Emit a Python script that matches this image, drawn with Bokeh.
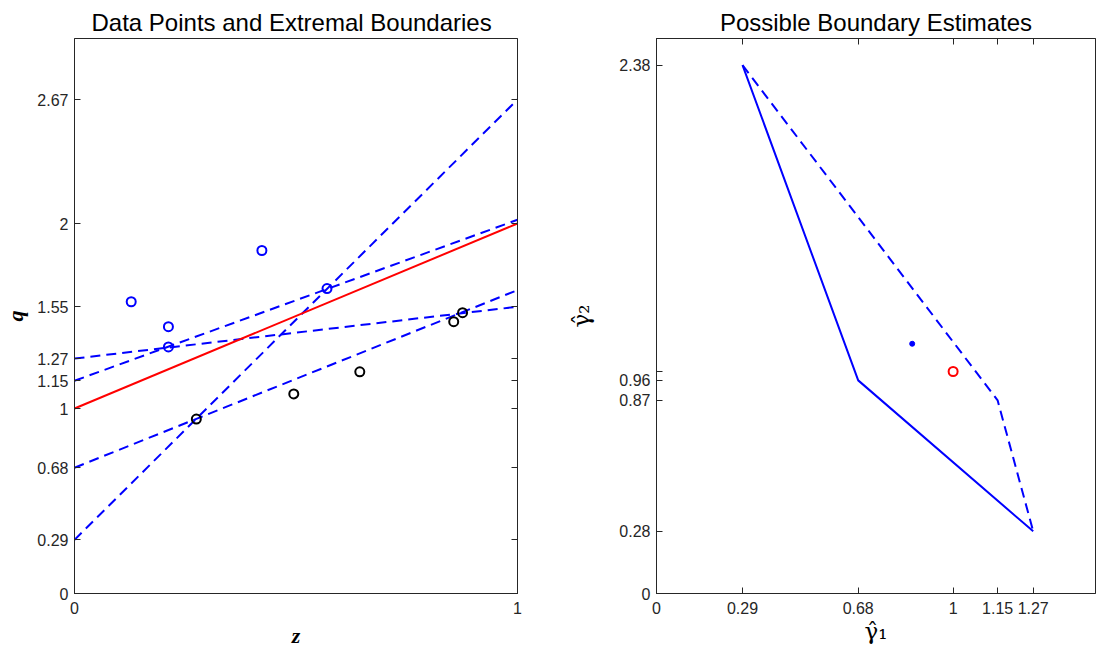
from bokeh.plotting import figure
from bokeh.layouts import row
from bokeh.models import LinearAxis, FixedTicker, CustomJSTickFormatter
from bokeh.embed import file_html
from bokeh.resources import INLINE

# ---------------- data ----------------
# left panel: observed points
blue_z = [0.128, 0.212, 0.212, 0.423, 0.570]
blue_q = [1.577, 1.442, 1.333, 1.854, 1.648]
black_z = [0.275, 0.495, 0.644, 0.856, 0.876]
black_q = [0.943, 1.079, 1.198, 1.469, 1.518]

# true boundary q = g1 + g2 * z
true_g1 = [1.0]
true_g2 = [1.0]

# extremal boundary parameters (vertices of the estimate region)
vert_g1 = [0.29, 0.68, 1.27, 1.15]
vert_g2 = [2.38, 0.96, 0.28, 0.87]
solid_idx = [0, 1, 2]
dashed_idx = [0, 3, 2]

# point estimate
est_g1 = [0.862]
est_g2 = [1.125]

z_ends = [0, 1]

left_xticks = [0, 1]
left_yticks = [0, 0.29, 0.68, 1, 1.15, 1.27, 1.55, 2, 2.67]
right_xticks = [0, 0.29, 0.68, 1, 1.15, 1.27]
right_yticks = [0, 0.28, 0.87, 0.96, 1, 2.38]

BLUE = "#0000FF"
RED = "#FF0000"
AX = "#262626"
TICK_FONT = "Liberation Sans"
TICK_SIZE = "16px"


def style(p):
    p.xgrid.visible = False
    p.ygrid.visible = False
    p.outline_line_color = AX
    p.outline_line_width = 1
    p.background_fill_color = "white"
    p.border_fill_color = "white"
    p.title.align = "center"
    p.title.text_font = "Liberation Sans"
    p.title.text_font_size = "24px"
    p.title.text_font_style = "normal"
    p.title.text_color = "#000000"
    p.title.standoff = 5
    for ax in (p.xaxis[0], p.yaxis[0]):
        ax.major_tick_in = 6
        ax.major_tick_out = 0
        ax.minor_tick_line_color = None
        ax.axis_line_color = AX
        ax.major_tick_line_color = AX
        ax.major_label_text_color = AX
        ax.major_label_text_font = TICK_FONT
        ax.major_label_text_font_size = TICK_SIZE
        ax.axis_label_text_font = "Liberation Serif"
        ax.axis_label_text_font_style = "bold italic"
        ax.axis_label_text_font_size = "22px"
        ax.axis_label_text_color = "#000000"


def mirror(p, ticks, side):
    ax = LinearAxis(ticker=FixedTicker(ticks=ticks),
                    formatter=CustomJSTickFormatter(code="return ''"),
                    major_tick_in=6, major_tick_out=0,
                    minor_tick_line_color=None,
                    major_label_standoff=0,
                    axis_line_color=AX, major_tick_line_color=AX)
    p.add_layout(ax, side)


# ---------------- left figure ----------------
p1 = figure(width=561, height=651, x_range=(0, 1), y_range=(0, 3),
            output_backend="svg", toolbar_location=None,
            title="Data Points and Extremal Boundaries",
            x_axis_label="z", y_axis_label="q",
            min_border_left=73, min_border_right=44,
            min_border_top=38, min_border_bottom=58)
style(p1)
p1.title.align = "left"
p1.title.offset = 17
p1.xaxis.ticker = FixedTicker(ticks=left_xticks)
p1.yaxis.ticker = FixedTicker(ticks=left_yticks)
p1.yaxis.major_label_standoff = 6
p1.yaxis.axis_label_standoff = 6
p1.xaxis.major_label_standoff = 8
p1.xaxis.axis_label_standoff = 6
mirror(p1, left_yticks, "right")

for g1, g2 in zip(vert_g1, vert_g2):
    p1.line(z_ends, [g1 + g2 * z for z in z_ends], line_color=BLUE,
            line_width=2, line_dash="10 6")
p1.line(z_ends, [true_g1[0] + true_g2[0] * z for z in z_ends],
        line_color=RED, line_width=2)
p1.scatter(blue_z, blue_q, marker="circle", size=9, fill_color=None,
           line_color=BLUE, line_width=2)
p1.scatter(black_z, black_q, marker="circle", size=9, fill_color=None,
           line_color="#000000", line_width=2)

# ---------------- right figure ----------------
p2 = figure(width=535, height=651, x_range=(0, 1.48), y_range=(0, 2.5),
            output_backend="svg", toolbar_location=None,
            title="Possible Boundary Estimates",
            x_axis_label="γ̂₁", y_axis_label="γ̂₂",
            min_border_left=95, min_border_right=1,
            min_border_top=38, min_border_bottom=58)
style(p2)
for ax in (p2.xaxis[0], p2.yaxis[0]):
    ax.axis_label_text_font = "DejaVu Serif"
    ax.axis_label_text_font_style = "normal"
    ax.axis_label_text_font_size = "23px"
p2.xaxis.ticker = FixedTicker(ticks=right_xticks)
p2.yaxis.ticker = FixedTicker(ticks=right_yticks)
p2.yaxis.major_label_overrides = {1: ""}
p2.yaxis.major_label_standoff = 6
p2.yaxis.axis_label_standoff = 22
p2.xaxis.major_label_standoff = 8
p2.xaxis.axis_label_standoff = 1
mirror(p2, right_xticks, "above")

p2.line([vert_g1[i] for i in solid_idx], [vert_g2[i] for i in solid_idx],
        line_color=BLUE, line_width=2)
p2.line([vert_g1[i] for i in dashed_idx], [vert_g2[i] for i in dashed_idx],
        line_color=BLUE, line_width=2, line_dash="10 6")
p2.scatter(est_g1, est_g2, marker="circle", size=5, fill_color=BLUE,
           line_color=BLUE)
p2.scatter(true_g1, true_g2, marker="circle", size=9, fill_color=None,
           line_color=RED, line_width=2)

layout = row(p1, p2)
open("out.html", "w").write(file_html(layout, INLINE))
